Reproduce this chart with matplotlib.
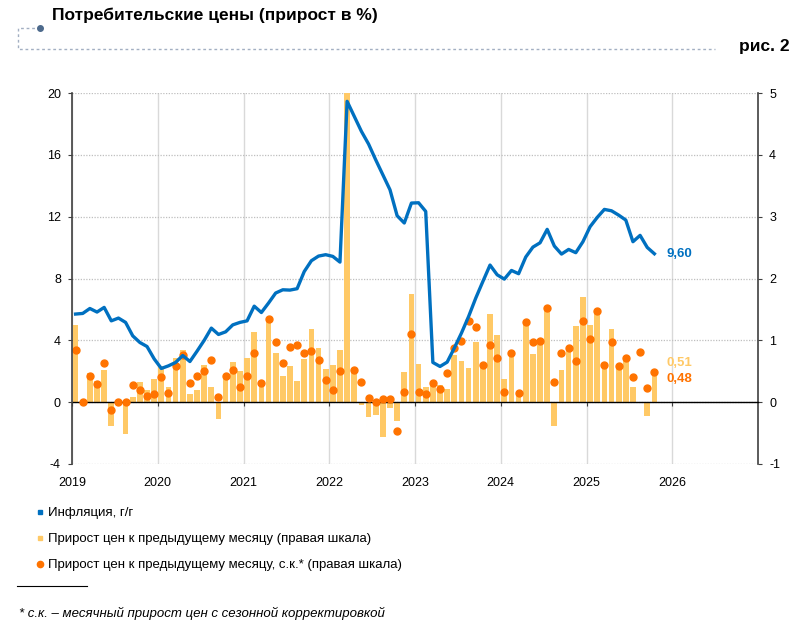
import numpy as np
import matplotlib
matplotlib.use("Agg")
import matplotlib.pyplot as plt
from matplotlib.lines import Line2D

plt.rcParams['font.family'] = ['Liberation Sans', 'DejaVu Sans']
plt.rcParams['axes.unicode_minus'] = False

# monthly data, Jan 2019 - Oct 2025
start_year = 2019

# inflation, y/y, % (left scale)
inflation_yoy = [
    5.70, 5.74, 6.06, 5.83, 6.13, 5.26, 5.44, 5.16, 4.29, 3.86, 3.60, 2.80,
    2.18, 2.35, 2.57, 3.02, 2.63, 3.30, 4.00, 4.79, 4.38, 4.55, 5.00, 5.16,
    5.26, 6.21, 5.80, 6.41, 7.06, 7.27, 7.25, 7.34, 8.45, 9.15, 9.45, 9.54,
    9.43, 9.06, 19.46, 18.49, 17.52, 16.70, 15.68, 14.71, 13.74, 12.06, 11.59, 12.88,
    12.90, 12.34, 2.57, 2.31, 2.59, 3.50, 4.47, 5.54, 6.73, 7.81, 8.87, 8.24,
    7.96, 8.52, 8.31, 9.39, 10.03, 10.31, 11.18, 10.10, 9.58, 9.88, 9.67, 10.38,
    11.35, 11.95, 12.47, 12.38, 12.10, 11.78, 10.38, 10.79, 10.01, 9.60,
]

# price growth to previous month, % (right scale)
mom = [
    1.24, 0.01, 0.47, 0.35, 0.52, -0.39, 0.00, -0.51, 0.08, 0.33, 0.20, 0.37,
    0.58, 0.24, 0.71, 0.85, 0.13, 0.20, 0.60, 0.25, -0.28, 0.38, 0.65, 0.50,
    0.71, 1.14, 0.33, 1.35, 0.80, 0.42, 0.59, 0.34, 0.70, 1.18, 0.88, 0.54,
    0.60, 0.84, 7.60, 0.55, -0.05, -0.24, -0.20, -0.56, -0.09, -0.30, 0.49, 1.75,
    0.62, 0.25, 0.26, 0.28, 0.21, 0.77, 0.66, 0.56, 0.98, 0.58, 1.42, 1.08,
    0.37, 0.79, 0.12, 1.32, 0.78, 0.99, 1.52, -0.38, 0.52, 0.87, 1.23, 1.70,
    1.25, 1.46, 0.60, 1.18, 0.57, 0.70, 0.24, -0.02, -0.22, 0.51,
]

# price growth to previous month, seasonally adjusted, % (right scale)
mom_sa = [
    0.85, 0.00, 0.43, 0.29, 0.64, -0.12, 0.00, 0.01, 0.28, 0.19, 0.10, 0.13,
    0.40, 0.15, 0.59, 0.76, 0.31, 0.42, 0.51, 0.68, 0.09, 0.42, 0.52, 0.24,
    0.42, 0.80, 0.31, 1.34, 0.98, 0.64, 0.89, 0.92, 0.79, 0.83, 0.69, 0.36,
    0.20, 0.51, 7.00, 0.52, 0.33, 0.06, 0.00, 0.05, 0.05, -0.46, 0.17, 1.11,
    0.17, 0.13, 0.31, 0.22, 0.47, 0.88, 0.99, 1.32, 1.21, 0.60, 0.93, 0.71,
    0.16, 0.80, 0.15, 1.29, 0.98, 0.99, 1.52, 0.32, 0.80, 0.87, 0.67, 1.32,
    1.02, 1.47, 0.60, 0.97, 0.58, 0.72, 0.40, 0.81, 0.23, 0.48,
]

year_ticks = list(range(2019, 2027))
left_ticks = list(range(-4, 21, 4))
right_ticks = list(range(-1, 6))

labels = [
    'Инфляция, г/г',
    'Прирост цен к предыдущему месяцу (правая шкала)',
    'Прирост цен к предыдущему месяцу, с.к.* (правая шкала)',
]

BLUE = '#0070C0'
LIGHT_ORANGE = '#FFC966'
ORANGE = '#FF7300'
AXIS_GREY = '#404040'


def fmt(v):
    return f'{v:.2f}'.replace('.', ',')


months = np.arange(len(inflation_yoy))
x = start_year + (months + 0.5) / 12

W, H = 798, 628
fig = plt.figure(figsize=(W / 100, H / 100), dpi=100)

# decoration around the title
deco = fig.add_axes([0, 0, 1, 1], zorder=-1)
deco.set_xlim(0, W)
deco.set_ylim(H, 0)
deco.axis('off')
deco.plot([40, 18, 18, 715], [28, 28, 49, 49], color='#A3AFC2', lw=1, ls=(0, (2, 2)))
deco.plot([40], [28], 'o', color='#4D6A8C', ms=4)
deco.plot([17, 87], [586, 586], color='black', lw=0.8)

ax = fig.add_axes([72 / W, 1 - 464 / H, (758 - 72) / W, (464 - 93) / H])
ax2 = ax.twinx()
ax.set_zorder(2)
ax2.set_zorder(1)
ax.patch.set_visible(False)

# bars + dots on the right scale
ax2.bar(x, mom, width=0.8 / 12, color=LIGHT_ORANGE, zorder=1)
ax2.plot(x, mom_sa, 'o', ls='none', color=ORANGE, ms=5, zorder=3)

# inflation line on the left scale
ax.plot(x, inflation_yoy, color=BLUE, lw=2.4, solid_joinstyle='round')

ax.set_xlim(2019, 2027)
ax.set_ylim(-4, 20)
ax2.set_ylim(-1, 5)
ax.set_xticks(year_ticks)
ax.set_yticks(left_ticks)
ax2.set_yticks(right_ticks)

# grid
ax2.set_axisbelow(True)
ax2.grid(axis='y', color='#BFBFBF', lw=0.9, ls=(0, (1, 1.2)))
ax2.grid(axis='x', color='#D9D9D9', lw=1)

# spines
for s in ['top', 'bottom', 'right']:
    ax.spines[s].set_visible(False)
ax.spines['left'].set_color(AXIS_GREY)
ax.spines['left'].set_linewidth(1.2)
for s in ['top', 'left']:
    ax2.spines[s].set_visible(False)
ax2.spines['right'].set_color(AXIS_GREY)
ax2.spines['right'].set_linewidth(1.2)
ax2.spines['bottom'].set_position(('data', 0))
ax2.spines['bottom'].set_color('black')
ax2.spines['bottom'].set_linewidth(1)

ax2.xaxis.set_visible(True)
ax2.tick_params(axis='x', labelbottom=False, bottom=True, top=False, length=3,
                color=AXIS_GREY)
ax.tick_params(axis='x', length=0, pad=9, labelsize=9)
ax.tick_params(axis='y', length=3, color=AXIS_GREY, labelsize=9, pad=5)
ax2.tick_params(axis='y', length=3, color=AXIS_GREY, labelsize=9, pad=5)

# end-of-series labels
ax.annotate(fmt(inflation_yoy[-1]), xy=(x[-1], inflation_yoy[-1]), xytext=(8.7, 0),
            textcoords='offset points', ha='left', va='center',
            color=BLUE, fontweight='bold', fontsize=9.5)
ax2.annotate(fmt(mom[-1]), xy=(x[-1], mom[-1]), xytext=(8.7, 5.8),
             textcoords='offset points', ha='left', va='center',
             color=LIGHT_ORANGE, fontweight='bold', fontsize=9.5)
ax2.annotate(fmt(mom_sa[-1]), xy=(x[-1], mom_sa[-1]), xytext=(8.7, -4.6),
             textcoords='offset points', ha='left', va='center',
             color=ORANGE, fontweight='bold', fontsize=9.5)

# legend
handles = [
    Line2D([], [], marker='s', ls='none', color=BLUE, ms=3.5),
    Line2D([], [], marker='s', ls='none', color=LIGHT_ORANGE, ms=3.5),
    Line2D([], [], marker='o', ls='none', color=ORANGE, ms=4.5),
]
fig.legend(handles, labels, loc='upper left', bbox_to_anchor=(37 / W, 1 - 507 / H),
           frameon=False, fontsize=9.5, handlelength=0.5, handletextpad=0.3,
           labelspacing=1.05, borderpad=0, borderaxespad=0)

# titles and footnote
fig.text(52 / W, 1 - 15 / H, 'Потребительские цены (прирост в %)',
         fontsize=12.5, fontweight='bold', va='center', ha='left')
fig.text(790 / W, 1 - 46 / H, 'рис. 2', fontsize=12.5, fontweight='bold',
         va='center', ha='right')
fig.text(19 / W, 1 - 613 / H, '* с.к. – месячный прирост цен с сезонной корректировкой',
         fontsize=9.5, style='italic', va='center', ha='left')

fig.savefig('out.png', dpi=100)
